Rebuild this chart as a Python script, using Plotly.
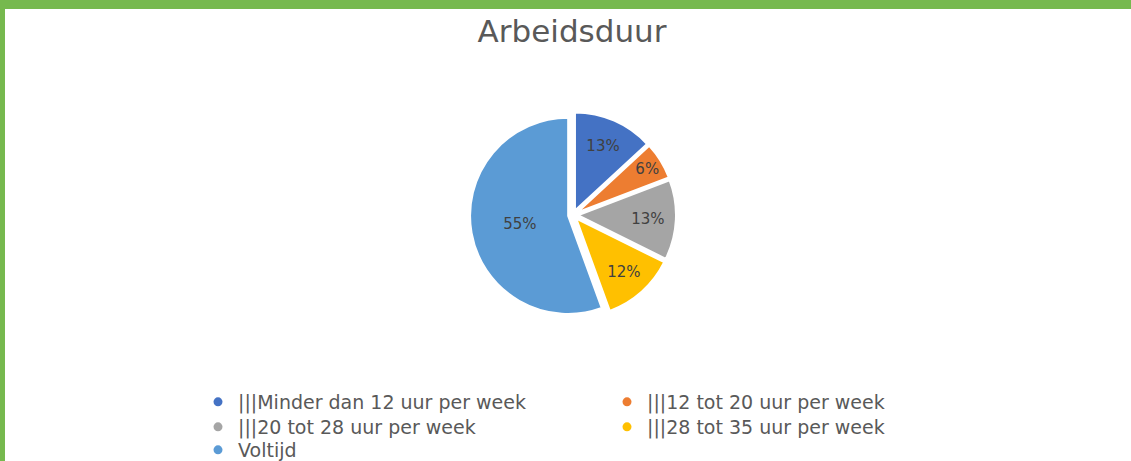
import plotly.graph_objects as go

labels = ["|||Minder dan 12 uur per week", "|||12 tot 20 uur per week",
          "|||20 tot 28 uur per week", "|||28 tot 35 uur per week", "Voltijd"]
values = [13, 6, 13, 12, 55]
colors = ["#4472C4", "#ED7D31", "#A5A5A5", "#FFC000", "#5B9BD5"]
legend_rows = ["legend", "legend", "legend2", "legend2", "legend3"]

W, H = 1131, 461
cx, cy, half = 573, 215, 103

fig = go.Figure()
fig.add_trace(go.Pie(
    labels=labels, values=values, sort=False, direction="clockwise", rotation=0,
    marker=dict(colors=colors, line=dict(color="white", width=2)),
    pull=[0.05] * 5,
    texttemplate="%{value}%", textposition="inside", insidetextorientation="horizontal",
    textfont=dict(family="DejaVu Sans", size=15, color="#404040"),
    showlegend=False, hoverinfo="label+value",
    domain=dict(x=[(cx - half) / W, (cx + half) / W], y=[1 - (cy + half) / H, 1 - (cy - half) / H]),
))

# legend entries drawn as round markers like the original, one legend per row
for lab, col, lg in zip(labels, colors, legend_rows):
    fig.add_trace(go.Scatter(x=[None], y=[None], mode="markers", name=lab, legend=lg,
                             marker=dict(symbol="circle", size=9, color=col)))

leg = dict(orientation="h", x=198 / W, xanchor="left", yanchor="middle",
           entrywidth=364, entrywidthmode="pixels",
           font=dict(family="DejaVu Sans", size=19, color="#595959"),
           bgcolor="rgba(0,0,0,0)")

fig.update_layout(
    width=W, height=H,
    margin=dict(l=0, r=0, t=0, b=0, autoexpand=False),
    paper_bgcolor="white", plot_bgcolor="white",
    title=dict(text="Arbeidsduur", x=572 / W, xanchor="center", y=1 - 31 / H, yanchor="middle",
               font=dict(family="DejaVu Sans", size=31, color="#595959")),
    xaxis=dict(visible=False), yaxis=dict(visible=False),
    legend=dict(leg, y=1 - 402 / H),
    legend2=dict(leg, y=1 - 427 / H),
    legend3=dict(leg, y=1 - 450 / H),
    shapes=[
        dict(type="rect", xref="paper", yref="paper", x0=0, x1=1, y0=1 - 9 / H, y1=1,
             fillcolor="#76B94E", line_width=0, layer="above"),
        dict(type="rect", xref="paper", yref="paper", x0=0, x1=5 / W, y0=0, y1=1,
             fillcolor="#76B94E", line_width=0, layer="above"),
    ],
)

fig.write_html("out.html", config={"displayModeBar": False},
               post_script="document.body.style.margin='0';")
